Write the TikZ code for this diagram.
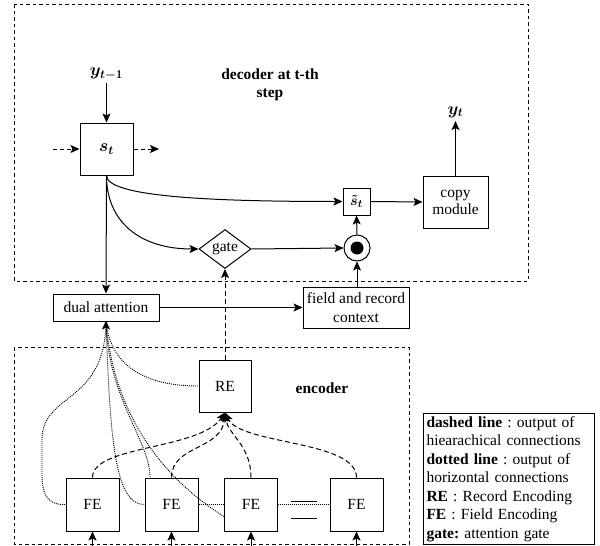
\documentclass[tikz,border=0pt]{standalone}
\usepackage{fontspec}
\setmainfont{Liberation Serif}
\usetikzlibrary{arrows.meta,shapes.geometric}
\frenchspacing
\begin{document}
\begin{tikzpicture}[x=1pt,y=-1pt,
  every node/.style={font=\fontsize{15.5}{18.5}\selectfont},
  box/.style={draw, line width=1pt, inner sep=0pt, align=center},
  mathlbl/.style={font=\fontsize{16.5}{18}\selectfont\boldmath},
  arr/.style={-{Stealth[length=9pt,width=8pt,inset=2pt]}, line width=1pt},
  dasharr/.style={arr, dash pattern=on 5pt off 3pt},
  shortdash/.style={arr, dash pattern=on 4pt off 3pt},
  dotline/.style={line width=0.9pt, dash pattern=on 1pt off 1pt},
  frame/.style={line width=1pt, dash pattern=on 3.5pt off 3pt},
  bold/.style={font=\bfseries\fontsize{15.5}{18}\selectfont, align=center}
]
\useasboundingbox (0,0) rectangle (600,546);

% frames
\draw[frame] (14,4) rectangle (528,281);
\draw[frame] (14,347) rectangle (409,544);

% labels
\node[bold] (declabel) at (270,85) {decoder at t-th\\step};
\node[bold] (enclabel) at (322,388) {encoder};
\node[mathlbl] (ytm1) at (106.5,74) {$y_{t-1}$};
\node[mathlbl] (yt) at (455.5,112) {$y_t$};

% nodes
\node[box, minimum width=53, minimum height=52, mathlbl] (st) at (106.5,149) {$s_t$};
\node[box, minimum width=27, minimum height=27, font=\fontsize{15}{16}\selectfont\boldmath] (stilde) at (356.5,201.5) {$\tilde{s}_t$};
\node[box, minimum width=65, minimum height=52, font=\fontsize{15.5}{17}\selectfont] (copy) at (455.5,202) {copy\\module};
\node[draw, circle, line width=1pt, minimum size=26, inner sep=0pt] (circ) at (357,248) {};
\fill (circ.center) circle (6.5pt);
\node[draw, diamond, line width=1pt, minimum width=52, minimum height=39, inner sep=0pt, label=center:{gate}] (gate) at (225,249) {};
\node[box, minimum width=106, minimum height=27] (da) at (106,307.5) {dual attention};
\node[box, minimum width=106, minimum height=41, font=\fontsize{15.5}{19}\selectfont] (frc) at (356,307.5) {field and record\\context};
\node[box, minimum width=52, minimum height=52] (re) at (225,386) {RE};
\node[box, minimum width=53, minimum height=53] (fe1) at (92.5,504.5) {FE};
\node[box, minimum width=53, minimum height=53] (fe2) at (171.5,504.5) {FE};
\node[box, minimum width=53, minimum height=53] (fe3) at (251,504.5) {FE};
\node[box, minimum width=53, minimum height=53] (fe4) at (356.5,504.5) {FE};

% legend
\node[draw, line width=1pt, anchor=north west, text width=165pt, minimum height=131, inner sep=3pt, align=left, font=\fontsize{15.5}{18.5}\selectfont] (legend) at (423,413)
 {\textbf{dashed line} : output of\\hiearachical connections\\\textbf{dotted line} : output of\\horizontal connections\\\textbf{RE} : Record Encoding\\\textbf{FE} : Field Encoding\\\textbf{gate:} attention gate};

% decoder connectors
\draw[arr] (ytm1) -- (st);
\coordinate (inL) at (53,149);
\coordinate (outR) at (159,149);
\draw[shortdash] (inL) -- (st.west);
\draw[shortdash] (st.east) -- (outR);
\draw[arr] (st.south) .. controls (106.5,197) and (213,201.5) .. (stilde.west);
\draw[arr] (st.south) .. controls (106.5,222) and (140,249) .. (gate.west);
\draw[arr] (st.south) -- (da.north);
\draw[arr] (stilde.east) -- (copy.west);
\draw[arr] (copy.north) -- (yt.south);
\draw[arr] (gate.east) -- (circ.west);
\draw[arr] (circ.north) -- (stilde.south);
\draw[arr] (circ.south |- frc.north) -- (circ.south);
\draw[arr] (da.east) -- (frc.west);
\draw[dasharr] (re.north) -- (gate.south);

% hierarchical (dashed)
\draw[dasharr] (fe1.north) .. controls (92.5,445) and (200,450) .. (re.south);
\draw[dasharr] (fe2.north) .. controls (171.5,445) and (222,450) .. (re.south);
\draw[dasharr] (fe3.north) .. controls (251,445) and (228,435) .. (re.south);
\draw[dasharr] (fe4.north) .. controls (356.5,440) and (240,445) .. (re.south);

% horizontal (dotted)
\draw[dotline] (da.south) .. controls (105,405) and (42,392) .. (42,440) -- (42,475) .. controls (42,500) and (52,505) .. (fe1.west);
\draw[dotline] (da.south) .. controls (110,440) and (115,505) .. (fe2.west);
\draw[dotline] (da.south) .. controls (108,400) and (150,440) .. ([xshift=-21.5pt]fe2.north);
\draw[dotline] (da.south) .. controls (112,400) and (150,470) .. ([yshift=-12pt]fe3.west);
\draw[dotline] (da.south) .. controls (110,362) and (140,386) .. (re.west);
\draw[dotline] (fe2.east) -- (fe3.west);
\draw[dotline] (fe3.east) -- (fe4.west);
\draw[arr] (da.south) -- ++(0,-1);

% ellipsis sign between FE3 and FE4
\draw[line width=1pt] (291,501) -- (317,501);
\draw[line width=1pt] (291,518) -- (317,518);

% inputs from below
\coordinate (in1) at (92.5,546);
\coordinate (in2) at (171.5,546);
\coordinate (in3) at (251,546);
\coordinate (in4) at (356.5,546);
\draw[arr] (in1) -- (fe1.south);
\draw[arr] (in2) -- (fe2.south);
\draw[arr] (in3) -- (fe3.south);
\draw[arr] (in4) -- (fe4.south);
\end{tikzpicture}
\end{document}
